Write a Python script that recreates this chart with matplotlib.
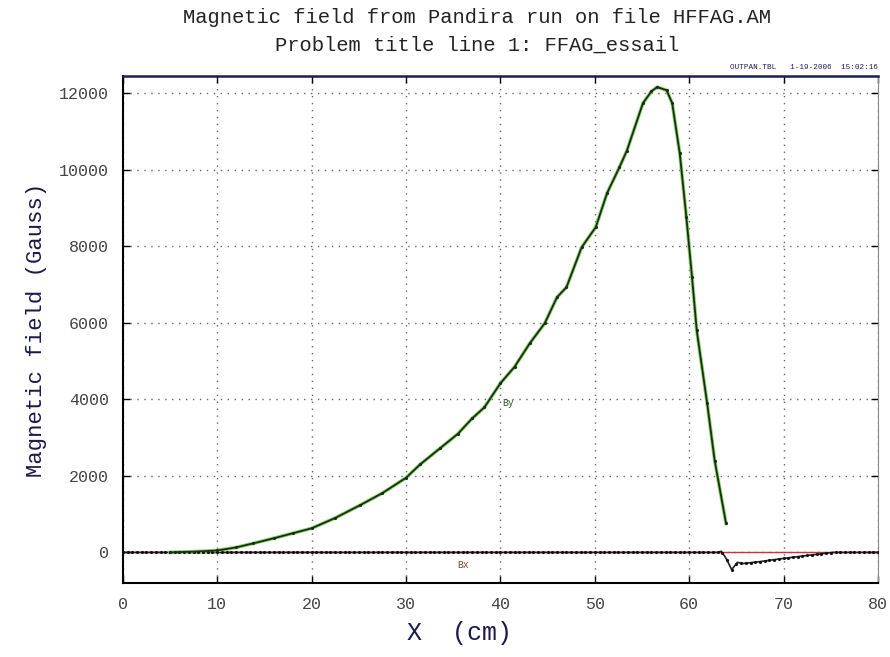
import numpy as np
import matplotlib.pyplot as plt

# By (green curve)
by_x = [5.0, 7.5, 10.0, 12.0, 13.8, 16.0, 18.0, 20.0, 22.5, 25.1, 27.5, 30.0, 31.5,
        33.6, 35.5, 37.0, 38.3, 40.0, 41.5, 43.1, 44.7, 46.0, 47.0, 48.6, 50.1,
        51.3, 52.6, 53.4, 55.1, 56.0, 56.6, 57.6, 58.2, 59.0, 59.7, 60.3, 60.8,
        61.9, 62.7, 63.9]
by_y = [0, 20, 50, 130, 235, 370, 500, 630, 900, 1230, 1550, 1950, 2300,
        2720, 3100, 3500, 3790, 4420, 4850, 5460, 5990, 6670, 6930, 7970, 8500,
        9390, 10060, 10500, 11740, 12050, 12160, 12080, 11740, 10430, 8760, 7190, 5800,
        3900, 2400, 760]

# Bx (black/red curve near zero)
bx_x = [0, 10, 20, 30, 40, 50, 60, 63.0, 63.4, 63.9, 64.5, 65.1, 65.7, 67.5, 69.9, 72.5, 75.2, 77.5, 80]
bx_y = [0, 0, 0, 0, 0, 0, 0, 0, 30, -150, -450, -260, -290, -240, -160, -80, 0, 0, 0]

mono = 'Liberation Mono'

fig = plt.figure(figsize=(8.9, 6.57), dpi=100)
ax = fig.add_axes([0.138, 0.1126, 0.8485, 0.7717])

# zero reference line of Bx in red, then the dotted black data
ax.plot([0, 80], [0, 0], color='#cc3333', lw=1.0, zorder=2)
bx_fine = np.linspace(0, 80, 161)
ax.plot(bx_x, bx_y, color='#222222', lw=1.2, zorder=3)
ax.plot(bx_fine, np.interp(bx_fine, bx_x, bx_y), ls='none', marker='.', ms=2.5,
        color='#111111', zorder=4)

ax.plot(by_x, by_y, color='#88d866', lw=2.6, zorder=3)
ax.plot(by_x, by_y, color='#1c2a1c', lw=1.3, marker='.', ms=2.5, zorder=4)

ax.text(40.8, 3900, 'By', fontsize=7, color='#2a5a2a', family=mono,
        ha='center', va='center')
ax.text(36.0, -320, 'Bx', fontsize=7, color='#7a4a20', family=mono,
        ha='center', va='center')

ax.set_xlim(0, 80)
ax.set_ylim(-800, 12450)
ax.set_xticks(np.arange(0, 81, 10))
ax.set_yticks(np.arange(0, 12001, 2000))
ax.grid(True, color='#666666', linestyle=(0, (1, 4)), lw=1.0)
ax.tick_params(direction='in', top=True, right=True, length=5, width=1,
               labelsize=12, labelcolor='#444444', pad=10)
for lab in ax.get_xticklabels() + ax.get_yticklabels():
    lab.set_family(mono)

ax.spines['top'].set_color('#1a1a66')
ax.spines['top'].set_linewidth(1.8)
ax.spines['left'].set_linewidth(1.5)
ax.spines['bottom'].set_linewidth(1.5)
ax.spines['right'].set_color('#888888')

ax.set_xlabel('X  (cm)', fontsize=18, family=mono, color='#1a1a4a')
ax.xaxis.set_label_coords(0.446, -0.075)
ax.set_ylabel('Magnetic field (Gauss)', fontsize=16, family=mono, color='#1a1a4a')
ax.yaxis.set_label_coords(-0.10, 0.5)

fig.text(0.536, 0.974, 'Magnetic field from Pandira run on file HFFAG.AM',
         fontsize=14.8, family=mono, color='#222222', ha='center', va='center')
fig.text(0.536, 0.931, 'Problem title line 1: FFAG_essail',
         fontsize=14.8, family=mono, color='#222222', ha='center', va='center')
fig.text(0.986, 0.897, 'OUTPAN.TBL   1-19-2006  15:02:16', fontsize=5.5,
         family=mono, color='#1a1a66', ha='right', va='center')

plt.savefig('out.png', dpi=100)
